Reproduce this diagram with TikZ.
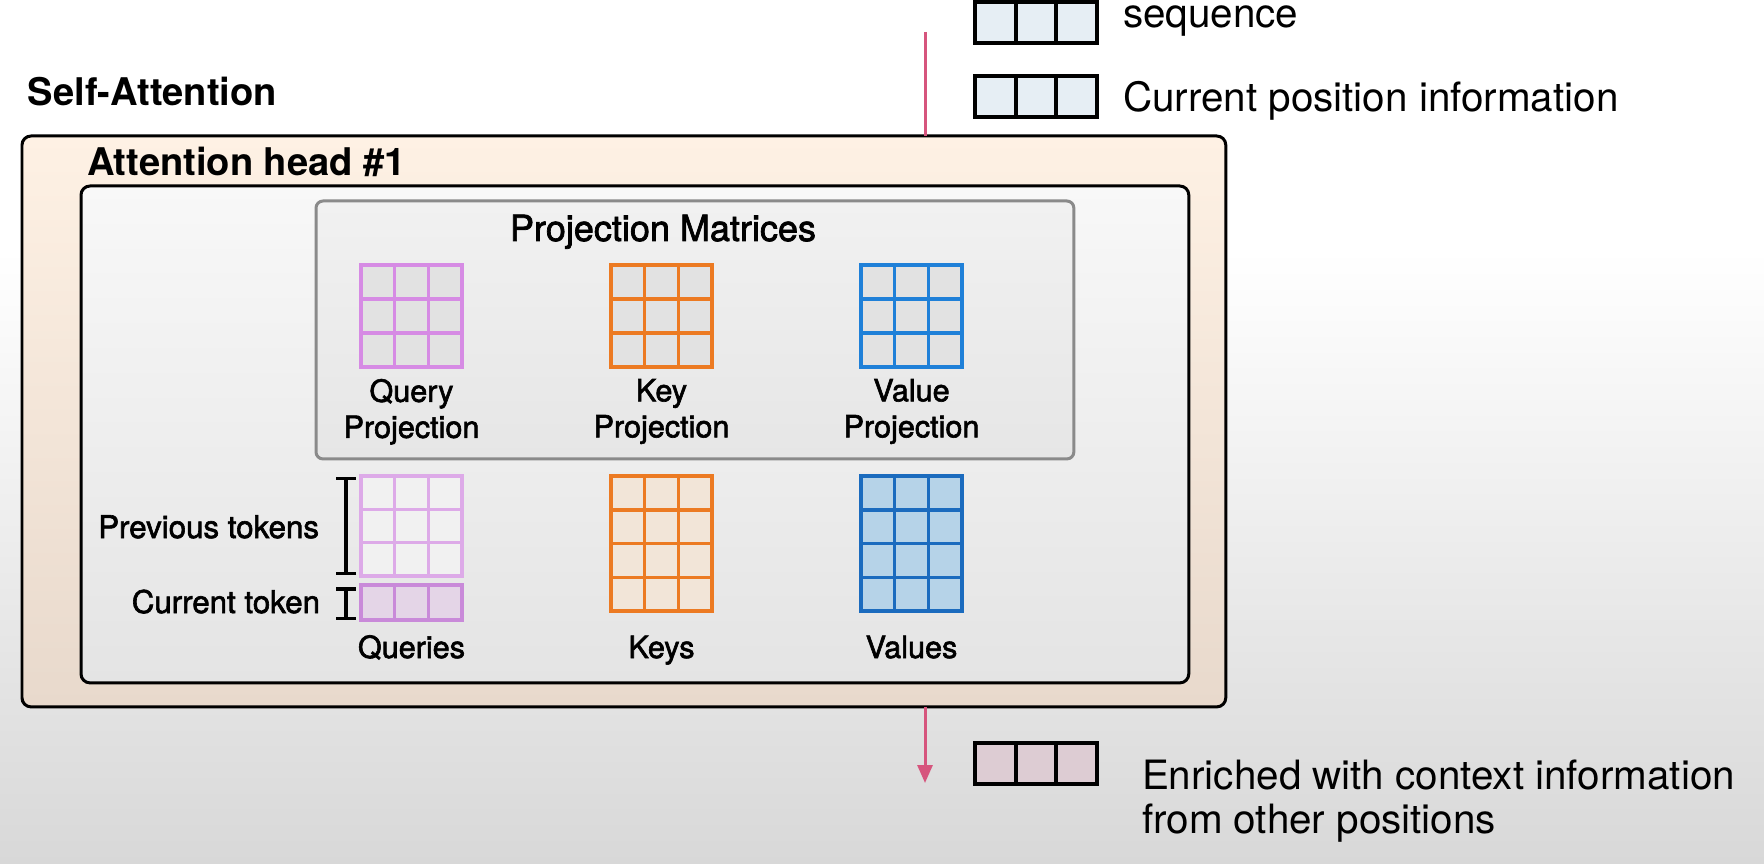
\documentclass[tikz,border=0pt]{standalone}
\usepackage{fontspec}
\setmainfont{TeX Gyre Heros}
\newfontfamily\medfont[FakeBold=2]{TeX Gyre Heros}
\usetikzlibrary{arrows.meta,positioning}
\definecolor{bgbot}{HTML}{D8D8D8}
\definecolor{linkpink}{HTML}{D6557D}
\definecolor{tokfill}{HTML}{E6EEF4}
\definecolor{outfill}{HTML}{DDCCD3}
\definecolor{headtop}{HTML}{FEF1E4}
\definecolor{headbot}{HTML}{E8D9CC}
\definecolor{innertop}{HTML}{F8F8F8}
\definecolor{innerbot}{HTML}{E4E4E4}
\definecolor{projtop}{HTML}{F1F1F1}
\definecolor{projbot}{HTML}{E6E6E6}
\definecolor{projedge}{HTML}{8A8A8A}
\definecolor{qcol}{HTML}{D68BE4}
\definecolor{qlight}{HTML}{DDAAE8}
\definecolor{qcur}{HTML}{C98AD9}
\definecolor{kcol}{HTML}{EC7A22}
\definecolor{vcol}{HTML}{1F80D8}
\definecolor{vdark}{HTML}{1B6BBE}
\definecolor{cellgray}{HTML}{E2E2E2}
\definecolor{qprevfill}{HTML}{F1F1F1}
\definecolor{qcurfill}{HTML}{E4D5E7}
\definecolor{kfill}{HTML}{F2E5D8}
\definecolor{vfill}{HTML}{B6D3E8}

\begin{document}
\begin{tikzpicture}[x=.02cm,y=-.02cm,
    txt/.style={inner sep=0pt,outer sep=0pt},
    frame/.style={draw,rounded corners=.18cm,inner sep=0pt,outer sep=0pt,anchor=north west},
    matcell/.style={line width=.08cm,inner sep=0pt,outer sep=0pt,anchor=north west,
      minimum width=2.02cm},
    tokbox/.style={draw=black,line width=.08cm,inner sep=0pt,outer sep=0pt,anchor=north west,
      minimum width=2.44cm,minimum height=.82cm}]
  \useasboundingbox (0,0) rectangle (1764,864);
  % background
  \fill[white] (0,0) rectangle (1764,251);
  \shade[top color=white,bottom color=bgbot] (0,250) rectangle (1764,864);

  % legend
  \foreach \nm/\y/\f in {seqbox/2/tokfill,posbox/76/tokfill,outbox/743/outfill}{
    \node[tokbox,fill=\f] (\nm) at (975,\y) {};
    \draw[line width=.08cm] (1015.7,\y) -- ++(0,41) (1056.3,\y) -- ++(0,41);
  }
  \node[txt,anchor=base west,font=\fontsize{23}{27}\selectfont] (seqtxt) at (1123,28) {sequence};
  \node[txt,anchor=base west,font=\fontsize{23}{27}\selectfont] (postxt) at (1123,112)
    {Current position information};
  \node[txt,anchor=north west,align=left,font=\fontsize{23}{24.9}\selectfont] (outtxt) at (1142,760)
    {Enriched with context information\\from other positions};

  \node[txt,anchor=base west,font=\fontsize{21.7}{25}\selectfont\bfseries] (satitle) at (28,106)
    {Self-Attention};

  % boxes
  \node[frame,line width=.06cm,top color=headtop,bottom color=headbot,
    minimum width=24.08cm,minimum height=11.42cm] (head) at (22,136) {};
  \node[txt,anchor=base west,font=\fontsize{21.7}{25}\selectfont\bfseries] (headtitle) at (87,176)
    {Attention head \#1};
  \node[frame,line width=.06cm,top color=innertop,bottom color=innerbot,
    minimum width=22.16cm,minimum height=9.94cm] (heads) at (81,186) {};
  \node[frame,draw=projedge,line width=.06cm,rounded corners=.14cm,top color=projtop,
    bottom color=projbot,minimum width=15.16cm,minimum height=5.16cm] (projbox) at (316,201) {};
  \node[txt,anchor=base,font=\medfont\fontsize{20.5}{24}\selectfont] (projtitle) at (663,241)
    {Projection Matrices};

  % projection matrices
  \foreach \nm/\col/\x in {qproj/qcol/361,kproj/kcol/611,vproj/vcol/861}{
    \node[matcell,draw=\col,fill=cellgray,minimum height=2.04cm] (\nm) at (\x,265) {};
    \draw[\col,line width=.07cm] (\x+33.7,265) -- (\x+33.7,367) (\x+67.3,265) -- (\x+67.3,367)
      (\x,299) -- (\x+101,299) (\x,333) -- (\x+101,333);
  }
  \node[txt,anchor=north,align=center,font=\medfont\fontsize{17.4}{20.5}\selectfont] (qprojtxt)
    at (411.5,379) {Query\\Projection};
  \node[txt,anchor=north,align=center,font=\medfont\fontsize{17.4}{20.5}\selectfont] (kprojtxt)
    at (661.5,379) {Key\\Projection};
  \node[txt,anchor=north,align=center,font=\medfont\fontsize{17.4}{20.5}\selectfont] (vprojtxt)
    at (911.5,379) {Value\\Projection};

  % queries, keys, values
  \node[matcell,draw=qlight,fill=qprevfill,minimum height=2.0cm] (qprev) at (361,476) {};
  \draw[qlight,line width=.07cm] (394.7,476) -- (394.7,576) (428.3,476) -- (428.3,576)
    (361,509.3) -- (462,509.3) (361,542.7) -- (462,542.7);
  \node[matcell,draw=qcur,fill=qcurfill,minimum height=.7cm] (qnow) at (361,585) {};
  \draw[qcur,line width=.07cm] (394.7,585) -- (394.7,620) (428.3,585) -- (428.3,620);
  \foreach \nm/\col/\f/\x in {keys/kcol/kfill/611,vals/vdark/vfill/861}{
    \node[matcell,draw=\col,fill=\f,minimum height=2.7cm] (\nm) at (\x,476) {};
    \draw[\col,line width=.07cm] (\x+33.7,476) -- (\x+33.7,611) (\x+67.3,476) -- (\x+67.3,611)
      (\x,509.75) -- (\x+101,509.75) (\x,543.5) -- (\x+101,543.5) (\x,577.25) -- (\x+101,577.25);
  }
  \node[txt,anchor=base,font=\medfont\fontsize{17.4}{20}\selectfont] (qtxt) at (411.5,658) {Queries};
  \node[txt,anchor=base,font=\medfont\fontsize{17.4}{20}\selectfont] (ktxt) at (661.5,658) {Keys};
  \node[txt,anchor=base,font=\medfont\fontsize{17.4}{20}\selectfont] (vtxt) at (911.5,658) {Values};

  % token brackets
  \draw[line width=.07cm,{Bar[width=.4cm]}-{Bar[width=.4cm]}] (346,477) -- (346,575);
  \draw[line width=.07cm,{Bar[width=.4cm]}-{Bar[width=.4cm]}] (346,587) -- (346,620);
  \node[txt,anchor=base east,font=\medfont\fontsize{17.8}{20}\selectfont] (prevtxt) at (319,538)
    {Previous tokens};
  \node[txt,anchor=base east,font=\medfont\fontsize{17.8}{20}\selectfont] (curtxt) at (320,613)
    {Current token};

  % flow in and out
  \coordinate (feedin) at (925,32);
  \coordinate (feedout) at (925,783);
  \draw[linkpink,line width=.06cm] (feedin) -- (feedin |- head.north);
  \draw[linkpink,line width=.06cm,-{Triangle[length=.36cm,width=.3cm]}]
    (feedout |- head.south) -- (feedout);
\end{tikzpicture}
\end{document}
